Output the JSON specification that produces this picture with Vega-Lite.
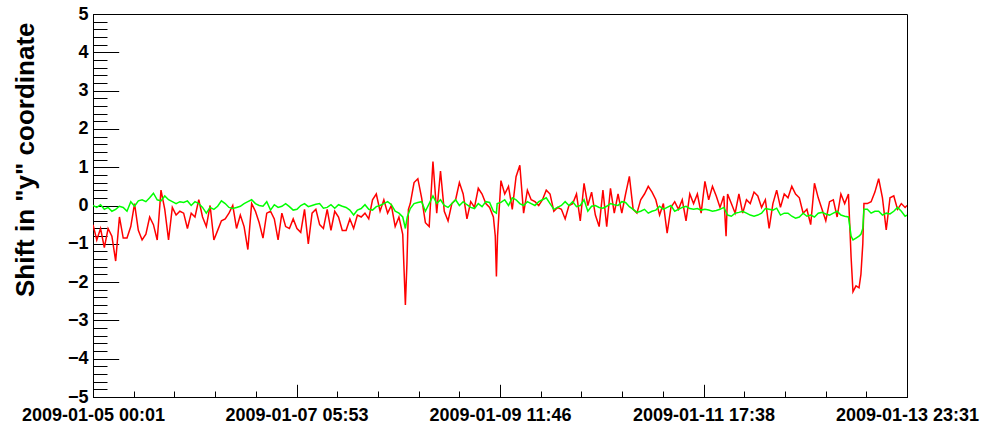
{
  "$schema": "https://vega.github.io/schema/vega-lite/v6.json",
  "width": 814,
  "height": 383,
  "autosize": "none",
  "padding": {"left": 93, "top": 14, "right": 75, "bottom": 30},
  "background": "white",
  "config": {
    "view": {"stroke": "#000000", "strokeWidth": 1},
    "axis": {"grid": false, "domainColor": "#000000", "tickColor": "#000000", "labelColor": "#000000", "labelFont": "Liberation Sans", "labelFontWeight": "bold", "labelFontSize": 18, "labelLimit": 0, "titleColor": "#000000"}
  },
  "datasets": {
    "red": [
      {"h":0,"v":-0.5},{"h":1,"v":-0.9},{"h":2,"v":-0.6},{"h":3,"v":-1.1},{"h":4,"v":-0.6},{"h":5,"v":-0.8},{"h":6,"v":-1.45},{"h":7,"v":-0.3},{"h":8,"v":-0.85},{"h":9,"v":-0.85},
      {"h":10,"v":-0.55},{"h":11,"v":0.05},{"h":12,"v":-0.65},{"h":13,"v":-0.9},{"h":14,"v":-0.75},{"h":15,"v":-0.3},{"h":16,"v":-0.5},{"h":17,"v":-0.9},{"h":18,"v":0.4},{"h":19,"v":-0.1},
      {"h":20,"v":-0.9},{"h":21,"v":-0.05},{"h":22,"v":-0.25},{"h":23,"v":-0.15},{"h":24,"v":-0.2},{"h":25,"v":-0.6},{"h":26,"v":-0.2},{"h":27,"v":-0.3},{"h":28,"v":0.15},{"h":29,"v":-0.3},
      {"h":30,"v":-0.55},{"h":31,"v":0.0},{"h":32,"v":-0.9},{"h":33,"v":-0.65},{"h":34,"v":-0.4},{"h":35,"v":-0.35},{"h":36,"v":-0.2},{"h":37,"v":0.0},{"h":38,"v":-0.6},{"h":39,"v":-0.25},
      {"h":40,"v":-0.55},{"h":41,"v":-1.15},{"h":42,"v":0.05},{"h":43,"v":-0.15},{"h":44,"v":-0.45},{"h":45,"v":-0.85},{"h":46,"v":-0.2},{"h":47,"v":-0.15},{"h":48,"v":-0.35},{"h":49,"v":-0.9},
      {"h":50,"v":-0.2},{"h":51,"v":-0.55},{"h":52,"v":-0.6},{"h":53,"v":-0.35},{"h":54,"v":-0.6},{"h":55,"v":-0.7},{"h":56,"v":-0.1},{"h":57,"v":-1.0},{"h":58,"v":-0.2},{"h":59,"v":-0.1},
      {"h":60,"v":-0.5},{"h":61,"v":-0.6},{"h":62,"v":-0.1},{"h":63,"v":-0.65},{"h":64,"v":-0.15},{"h":65,"v":-0.3},{"h":66,"v":-0.65},{"h":67,"v":-0.65},{"h":68,"v":-0.35},{"h":69,"v":-0.6},
      {"h":70,"v":-0.25},{"h":71,"v":-0.3},{"h":72,"v":-0.2},{"h":73,"v":-0.35},{"h":74,"v":0.15},{"h":75,"v":0.3},{"h":76,"v":-0.15},{"h":77,"v":0.15},{"h":78,"v":-0.2},{"h":79,"v":0.0},
      {"h":80,"v":-0.55},{"h":81,"v":-0.3},{"h":82,"v":-0.75},{"h":82.3,"v":-1.55},{"h":82.7,"v":-2.6},{"h":83.1,"v":-1.55},{"h":83.5,"v":-0.1},{"h":84,"v":0.05},{"h":85,"v":0.6},{"h":86,"v":0.7},{"h":87,"v":0.2},
      {"h":88,"v":-0.45},{"h":89,"v":-0.55},{"h":90,"v":1.15},{"h":91,"v":-0.2},{"h":92,"v":0.9},{"h":93,"v":-0.15},{"h":94,"v":-0.4},{"h":95,"v":0.05},{"h":96,"v":0.15},{"h":97,"v":0.6},
      {"h":98,"v":0.3},{"h":99,"v":-0.35},{"h":100,"v":0.1},{"h":101,"v":-0.05},{"h":102,"v":0.45},{"h":103,"v":0.3},{"h":104,"v":0.05},{"h":105,"v":-0.05},{"h":106,"v":-0.3},{"h":106.5,"v":-0.8},
      {"h":106.8,"v":-1.85},{"h":107.1,"v":-0.8},{"h":108,"v":0.65},{"h":109,"v":0.3},{"h":110,"v":0.5},{"h":111,"v":-0.1},{"h":112,"v":0.75},{"h":113,"v":1.05},{"h":114,"v":-0.2},{"h":115,"v":0.4},
      {"h":116,"v":0.15},{"h":117,"v":0.1},{"h":118,"v":0.0},{"h":119,"v":0.15},{"h":120,"v":0.4},{"h":121,"v":0.3},{"h":122,"v":-0.15},{"h":123,"v":-0.05},{"h":124,"v":-0.1},{"h":125,"v":-0.35},
      {"h":126,"v":0.0},{"h":127,"v":0.05},{"h":128,"v":0.3},{"h":129,"v":-0.4},{"h":130,"v":0.58},{"h":131,"v":0.0},{"h":132,"v":0.35},{"h":133,"v":-0.25},{"h":134,"v":-0.55},{"h":135,"v":0.4},
      {"h":136,"v":-0.55},{"h":137,"v":0.45},{"h":138,"v":-0.2},{"h":139,"v":0.3},{"h":140,"v":-0.2},{"h":141,"v":0.3},{"h":142,"v":0.76},{"h":143,"v":-0.1},{"h":144,"v":-0.2},{"h":145,"v":0.15},
      {"h":146,"v":0.3},{"h":147,"v":0.5},{"h":148,"v":0.35},{"h":149,"v":0.15},{"h":150,"v":-0.25},{"h":151,"v":0.05},{"h":152,"v":-0.72},{"h":153,"v":-0.05},{"h":154,"v":0.1},{"h":155,"v":-0.1},
      {"h":156,"v":0.15},{"h":157,"v":-0.4},{"h":158,"v":0.3},{"h":159,"v":0.05},{"h":160,"v":0.3},{"h":161,"v":-0.2},{"h":162,"v":0.63},{"h":163,"v":0.15},{"h":164,"v":0.5},{"h":165,"v":0.25},
      {"h":166,"v":-0.05},{"h":167,"v":0.25},{"h":167.6,"v":-0.8},{"h":168,"v":0.3},{"h":169,"v":0.05},{"h":170,"v":-0.2},{"h":171,"v":0.3},{"h":172,"v":-0.2},{"h":173,"v":0.15},{"h":174,"v":0.05},
      {"h":175,"v":0.35},{"h":176,"v":0.25},{"h":177,"v":-0.05},{"h":178,"v":0.15},{"h":179,"v":-0.6},{"h":180,"v":0.05},{"h":181,"v":0.4},{"h":182,"v":-0.05},{"h":183,"v":0.3},{"h":184,"v":0.2},
      {"h":185,"v":0.5},{"h":186,"v":0.3},{"h":187,"v":0.2},{"h":188,"v":-0.2},{"h":189,"v":-0.1},{"h":190,"v":-0.5},{"h":191,"v":0.58},{"h":192,"v":0.2},{"h":193,"v":-0.1},{"h":194,"v":-0.4},
      {"h":195,"v":0.1},{"h":196,"v":0.15},{"h":197,"v":-0.3},{"h":198,"v":0.3},{"h":199,"v":0.05},{"h":200,"v":0.3},{"h":200.7,"v":-1.35},{"h":201.2,"v":-2.25},{"h":202,"v":-2.1},{"h":202.8,"v":-2.15},
      {"h":203.3,"v":-1.8},{"h":203.8,"v":-1.0},{"h":204.1,"v":0.05},{"h":205,"v":0.05},{"h":206,"v":0.1},{"h":207,"v":0.35},{"h":208,"v":0.7},{"h":209,"v":0.2},{"h":210,"v":-0.64},{"h":211,"v":0.2},
      {"h":212,"v":0.25},{"h":213,"v":-0.1},{"h":214,"v":0.05},{"h":215,"v":-0.05},{"h":215.5,"v":0.0}
    ],
    "green": [
      {"h":0,"v":0.0},{"h":1,"v":-0.05},{"h":2,"v":0.02},{"h":3,"v":-0.1},{"h":4,"v":-0.05},{"h":5,"v":-0.15},{"h":6,"v":-0.1},{"h":7,"v":-0.02},{"h":8,"v":-0.05},{"h":9,"v":-0.15},
      {"h":10,"v":0.1},{"h":11,"v":-0.02},{"h":12,"v":0.12},{"h":13,"v":0.15},{"h":14,"v":0.1},{"h":15,"v":0.2},{"h":16,"v":0.32},{"h":17,"v":0.15},{"h":18,"v":0.12},{"h":19,"v":0.25},
      {"h":20,"v":0.15},{"h":21,"v":0.1},{"h":22,"v":0.05},{"h":23,"v":0.1},{"h":24,"v":0.08},{"h":25,"v":0.12},{"h":26,"v":0.0},{"h":27,"v":0.1},{"h":28,"v":0.05},{"h":29,"v":-0.05},
      {"h":30,"v":-0.2},{"h":31,"v":-0.05},{"h":32,"v":-0.1},{"h":33,"v":-0.02},{"h":34,"v":0.12},{"h":35,"v":0.05},{"h":36,"v":-0.05},{"h":37,"v":-0.08},{"h":38,"v":-0.05},{"h":39,"v":-0.02},
      {"h":40,"v":0.05},{"h":41,"v":0.1},{"h":42,"v":0.15},{"h":43,"v":0.05},{"h":44,"v":0.0},{"h":45,"v":-0.02},{"h":46,"v":0.1},{"h":47,"v":-0.12},{"h":48,"v":0.02},{"h":49,"v":-0.05},
      {"h":50,"v":-0.02},{"h":51,"v":0.05},{"h":52,"v":-0.03},{"h":53,"v":-0.12},{"h":54,"v":-0.1},{"h":55,"v":0.0},{"h":56,"v":0.05},{"h":57,"v":-0.03},{"h":58,"v":0.0},{"h":59,"v":0.03},
      {"h":60,"v":0.05},{"h":61,"v":-0.07},{"h":62,"v":-0.05},{"h":63,"v":0.02},{"h":64,"v":-0.07},{"h":65,"v":0.02},{"h":66,"v":-0.02},{"h":67,"v":-0.05},{"h":68,"v":-0.12},{"h":69,"v":-0.25},
      {"h":70,"v":-0.12},{"h":71,"v":-0.08},{"h":72,"v":0.02},{"h":73,"v":-0.1},{"h":74,"v":-0.12},{"h":75,"v":-0.03},{"h":76,"v":0.0},{"h":77,"v":0.05},{"h":78,"v":0.1},{"h":79,"v":0.02},
      {"h":80,"v":-0.15},{"h":81,"v":-0.2},{"h":82,"v":-0.3},{"h":82.7,"v":-0.6},{"h":83.2,"v":-0.3},{"h":84,"v":-0.08},{"h":85,"v":0.05},{"h":86,"v":0.08},{"h":87,"v":0.1},
      {"h":88,"v":-0.15},{"h":89,"v":0.05},{"h":90,"v":0.25},{"h":91,"v":0.05},{"h":92,"v":0.15},{"h":93,"v":0.0},{"h":94,"v":-0.05},{"h":95,"v":0.05},{"h":96,"v":0.15},{"h":97,"v":0.0},
      {"h":98,"v":0.1},{"h":99,"v":0.02},{"h":100,"v":-0.05},{"h":101,"v":-0.08},{"h":102,"v":0.05},{"h":103,"v":-0.03},{"h":104,"v":0.1},{"h":105,"v":0.08},{"h":106,"v":-0.15},{"h":106.8,"v":-0.2},
      {"h":107,"v":0.05},{"h":108,"v":0.08},{"h":109,"v":0.15},{"h":110,"v":0.0},{"h":111,"v":0.2},{"h":112,"v":0.15},{"h":113,"v":0.05},{"h":114,"v":0.0},{"h":115,"v":0.1},{"h":116,"v":0.05},
      {"h":117,"v":0.0},{"h":118,"v":0.1},{"h":119,"v":0.15},{"h":120,"v":0.2},{"h":121,"v":0.05},{"h":122,"v":-0.1},{"h":123,"v":-0.05},{"h":124,"v":0.0},{"h":125,"v":0.1},{"h":126,"v":0.0},
      {"h":127,"v":0.1},{"h":128,"v":-0.03},{"h":129,"v":0.0},{"h":130,"v":0.15},{"h":131,"v":-0.15},{"h":132,"v":-0.02},{"h":133,"v":0.0},{"h":134,"v":-0.05},{"h":135,"v":-0.07},{"h":136,"v":-0.02},
      {"h":137,"v":0.05},{"h":138,"v":0.02},{"h":139,"v":0.0},{"h":140,"v":0.1},{"h":141,"v":0.08},{"h":142,"v":-0.03},{"h":143,"v":-0.1},{"h":144,"v":-0.18},{"h":145,"v":-0.15},{"h":146,"v":-0.1},
      {"h":147,"v":-0.2},{"h":148,"v":-0.15},{"h":149,"v":-0.12},{"h":150,"v":-0.02},{"h":151,"v":-0.1},{"h":152,"v":-0.05},{"h":153,"v":0.0},{"h":154,"v":-0.15},{"h":155,"v":-0.1},{"h":156,"v":-0.05},
      {"h":157,"v":-0.02},{"h":158,"v":-0.08},{"h":159,"v":-0.1},{"h":160,"v":-0.08},{"h":161,"v":-0.12},{"h":162,"v":-0.1},{"h":163,"v":-0.12},{"h":164,"v":-0.15},{"h":165,"v":-0.13},{"h":166,"v":-0.1},
      {"h":167,"v":-0.05},{"h":168,"v":-0.25},{"h":169,"v":-0.28},{"h":170,"v":-0.2},{"h":171,"v":-0.18},{"h":172,"v":-0.15},{"h":173,"v":-0.2},{"h":174,"v":-0.25},{"h":175,"v":-0.28},{"h":176,"v":-0.25},
      {"h":177,"v":-0.2},{"h":178,"v":-0.08},{"h":179,"v":-0.1},{"h":180,"v":-0.12},{"h":181,"v":-0.07},{"h":182,"v":-0.25},{"h":183,"v":-0.2},{"h":184,"v":-0.2},{"h":185,"v":-0.28},{"h":186,"v":-0.33},
      {"h":187,"v":-0.3},{"h":188,"v":-0.2},{"h":189,"v":-0.28},{"h":190,"v":-0.25},{"h":191,"v":-0.3},{"h":192,"v":-0.2},{"h":193,"v":-0.18},{"h":194,"v":-0.22},{"h":195,"v":-0.25},{"h":196,"v":-0.2},
      {"h":197,"v":-0.15},{"h":198,"v":-0.25},{"h":199,"v":-0.28},{"h":200,"v":-0.3},{"h":200.7,"v":-0.8},{"h":201.2,"v":-0.9},{"h":202,"v":-0.85},{"h":202.8,"v":-0.8},{"h":203.3,"v":-0.75},{"h":203.8,"v":-0.6},
      {"h":204.1,"v":-0.1},{"h":205,"v":-0.1},{"h":206,"v":-0.2},{"h":207,"v":-0.15},{"h":208,"v":-0.15},{"h":209,"v":-0.25},{"h":210,"v":-0.2},{"h":211,"v":-0.22},{"h":212,"v":-0.15},{"h":213,"v":-0.05},
      {"h":214,"v":-0.15},{"h":215,"v":-0.28},{"h":215.5,"v":-0.25}
    ]
  },
  "resolve": {"axis": {"x": "independent", "y": "independent"}},
  "layer": [
    {
      "data": {"name": "red"},
      "mark": {"type": "line", "interpolate": "linear", "color": "#ff0000", "strokeWidth": 1.5, "clip": true},
      "encoding": {
        "x": {"field": "h", "type": "quantitative", "scale": {"domain": [0, 215.5], "nice": false, "zero": false},
          "axis": {"orient": "bottom", "title": null, "values": [0, 53.875, 107.75, 161.625, 215.5], "tickSize": -12.7, "labelPadding": 22, "labelFlush": false, "labelOverlap": false,
            "labelExpr": "timeFormat(time(datetime(2009,0,5,0,1)) + datum.value*3600000, '%Y-%m-%d %H:%M')"}},
        "y": {"field": "v", "type": "quantitative", "scale": {"domain": [-5, 5], "nice": false, "zero": false},
          "axis": {"orient": "left", "values": [-5,-4,-3,-2,-1,0,1,2,3,4,5], "tickSize": -25.7, "labelPadding": 30.7, "labelFlush": false, "labelOverlap": false,
            "title": "Shift in \"y\" coordinate", "titleFont": "Liberation Sans", "titleFontWeight": "bold", "titleFontSize": 26,
            "titleAngle": -90, "titleAlign": "right", "titleBaseline": "alphabetic", "titleX": -60, "titleY": 8}}
      }
    },
    {
      "data": {"name": "green"},
      "mark": {"type": "line", "interpolate": "linear", "color": "#00ff00", "strokeWidth": 1.5, "clip": true},
      "encoding": {
        "x": {"field": "h", "type": "quantitative",
          "axis": {"orient": "bottom", "title": null, "labels": false, "domain": false, "tickSize": -6,
            "values": [0,10.775,21.55,32.325,43.1,53.875,64.65,75.425,86.2,96.975,107.75,118.525,129.3,140.075,150.85,161.625,172.4,183.175,193.95,204.725,215.5]}},
        "y": {"field": "v", "type": "quantitative",
          "axis": {"orient": "left", "title": null, "labels": false, "domain": false, "tickSize": -14,
            "values": [-5,-4.8,-4.6,-4.4,-4.2,-4,-3.8,-3.6,-3.4,-3.2,-3,-2.8,-2.6,-2.4,-2.2,-2,-1.8,-1.6,-1.4,-1.2,-1,-0.8,-0.6,-0.4,-0.2,0,0.2,0.4,0.6,0.8,1,1.2,1.4,1.6,1.8,2,2.2,2.4,2.6,2.8,3,3.2,3.4,3.6,3.8,4,4.2,4.4,4.6,4.8,5]}}
      }
    }
  ]
}
